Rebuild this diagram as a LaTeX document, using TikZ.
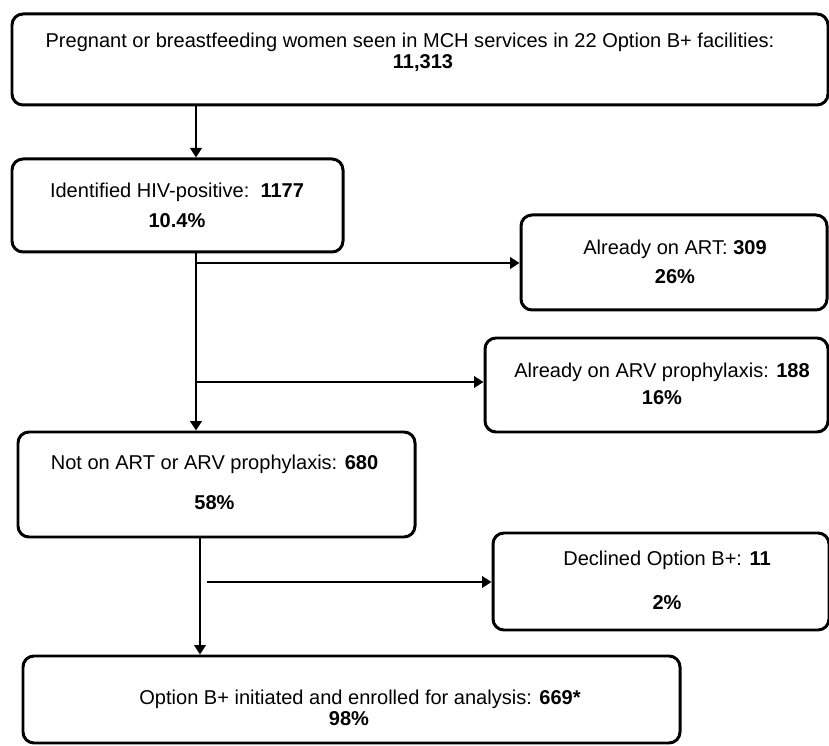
\documentclass[tikz,border=0pt]{standalone}
\usepackage{fontspec}
\setmainfont{Liberation Sans}
\usetikzlibrary{arrows.meta}

\begin{document}
\begin{tikzpicture}[
    box/.style={draw, line width=1.7pt, rounded corners=0.22cm, inner sep=0pt},
    txt/.style={align=center, inner sep=0pt, font=\fontsize{11.4}{12.2}\selectfont},
    arr/.style={line width=1.4pt, -{Triangle[length=0.19cm, width=0.23cm]}}
  ]
    \useasboundingbox (0, 0) rectangle (16.58, 14.9);
    \node[box, minimum width=16.32cm, minimum height=1.82cm] (screen) at (8.4, 13.71) {};
    \node[box, minimum width=6.62cm, minimum height=1.86cm] (hiv) at (3.55, 10.79) {};
    \node[box, minimum width=6.12cm, minimum height=1.9cm] (art) at (13.48, 9.65) {};
    \node[box, minimum width=6.86cm, minimum height=1.88cm] (arv) at (13.13, 7.2) {};
    \node[box, minimum width=7.94cm, minimum height=2.1cm] (naive) at (4.33, 5.21) {};
    \node[box, minimum width=6.72cm, minimum height=1.94cm] (decl) at (13.22, 3.27) {};
    \node[box, minimum width=13.14cm, minimum height=1.74cm] (enrol) at (7.03, 0.91) {};
    \node[txt] (screentext) at (8.2, 13.85) {Pregnant or breastfeeding women seen in MCH services in 22 Option B+ facilities:\\ \kern0.52cm\textbf{11,313}};
    \node[txt] (hivtext) at (3.54, 10.8) {Identified HIV-positive:\ \ \textbf{1177}\\[4.9pt] \textbf{10.4\%}};
    \node[txt] (arttext) at (13.5, 9.67) {Already on ART: \textbf{309}\\[4.3pt] \textbf{26\%}};
    \node[txt] (arvtext) at (13.24, 7.23) {Already on ARV prophylaxis: \textbf{188}\\[3.2pt] \textbf{16\%}};
    \node[txt] (naivetext) at (4.29, 5.26) {Not on ART or ARV prophylaxis: \textbf{680}\\[10.6pt] \textbf{58\%}};
    \node[txt] (decltext) at (13.34, 3.3) {Declined Option B+: \textbf{11}\\[12.8pt] \textbf{2\%}};
    \node[txt] (enroltext) at (7.2, 0.74) {Option B+ initiated and enrolled for analysis: \textbf{669*}\\ \kern-0.44cm\textbf{98\%}};
    \coordinate (trunk) at (3.92, 0);
    \coordinate (trunkb) at (4.0, 0);
    \coordinate (fork1) at (3.92, 9.64);
    \coordinate (fork2) at (3.92, 7.26);
    \coordinate (fork3) at (4.14, 3.26);
    \draw[arr] (screen.south -| trunk) to (hiv.north -| trunk);
    \draw[arr] (hiv.south -| trunk) to (naive.north -| trunk);
    \draw[arr] (fork1) to (fork1 -| art.west);
    \draw[arr] (fork2) to (fork2 -| arv.west);
    \draw[arr] (naive.south -| trunkb) to (enrol.north -| trunkb);
    \draw[arr] (fork3) to (fork3 -| decl.west);
\end{tikzpicture}
\end{document}
